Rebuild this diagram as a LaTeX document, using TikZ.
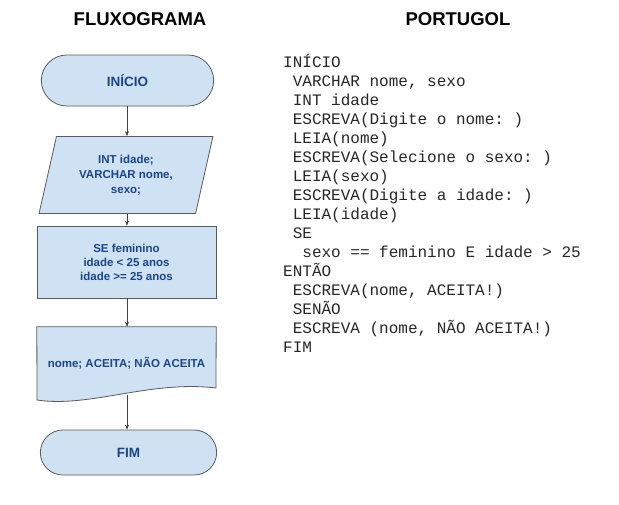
\documentclass[tikz,border=0pt]{standalone}
\usepackage{fontspec}
\setmainfont{Liberation Sans}
\setmonofont{Liberation Mono}
\usetikzlibrary{shapes.geometric,shapes.misc,arrows.meta}
\definecolor{lblue}{HTML}{CFE2F3}
\definecolor{dblue}{HTML}{1C4587}
\definecolor{edge}{HTML}{5A5A5A}
\tikzstyle{title}=[font=\bfseries\fontsize{18.5}{20}\selectfont,inner sep=0pt]
\tikzstyle{box}=[draw=edge,fill=lblue,text=dblue,line width=0.8,align=center,font=\bfseries\fontsize{11.5}{14}\selectfont]
\tikzstyle{terminal}=[box,rounded rectangle,font=\bfseries\fontsize{13.5}{16}\selectfont]
\tikzstyle{io}=[box,trapezium,trapezium left angle=75,trapezium right angle=105,trapezium stretches=true,minimum width=174,minimum height=77,font=\bfseries\fontsize{11.5}{15}\selectfont]
\tikzstyle{process}=[box,rectangle,minimum width=179,minimum height=72]
\tikzstyle{docshape}=[draw=edge,fill=lblue,line width=0.8]
\tikzstyle{doctext}=[text=dblue,font=\bfseries\fontsize{11.5}{14}\selectfont,minimum width=179,minimum height=72]
\tikzstyle{flow}=[-{Stealth[length=5pt,width=4pt]},draw=black!75,line width=0.6]
\tikzstyle{code}=[anchor=base west,inner sep=0pt,font=\ttfamily\fontsize{16}{19}\selectfont,text=black!85]

\begin{document}
\begin{tikzpicture}[x=1pt,y=-1pt]
	\useasboundingbox (0,0) rectangle (619,504);
	% titles
	\node [style=title] (tflux) at (140,19) {FLUXOGRAMA};
	\node [style=title] (tport) at (458,19) {PORTUGOL};

	% flowchart
	\node [style=terminal,minimum width=179,minimum height=51] (ini) at (127.5,80.5) {INÍCIO};
	\node [style=io] (decl) at (126,175) {INT idade;\\VARCHAR nome,\\sexo;};
	\node [style=process] (cond) at (126.5,262) {SE feminino\\idade < 25 anos\\idade >= 25 anos};
	\node [style=doctext] (out) at (126.5,363) {};
	\draw [style=docshape] (out.north west) -- (out.north east) -- (216,388)
		.. controls (150,380) and (90,408) .. (37,400) -- cycle;
	\node [style=doctext] at (out.center) {nome; ACEITA; NÃO ACEITA};
	\node [style=terminal,minimum width=183,minimum height=45] (fim) at (128.5,452.5) {FIM};

	\draw [style=flow] (ini.south -| 127,0) to (decl.north -| 127,0);
	\draw [style=flow] (decl.south -| 127,0) to (cond.north -| 127,0);
	\draw [style=flow] (cond.south -| 127,0) to (out.north -| 127,0);
	\draw [style=flow] ([yshift=4pt]out.south -| 127,0) to (fim.north -| 127,0);

	% pseudocode
	\node [style=code] (l0) at (283,67) {INÍCIO};
	\node [style=code] (l1) at (283,86) {\hphantom{x}VARCHAR nome, sexo};
	\node [style=code] (l2) at (283,105) {\hphantom{x}INT idade};
	\node [style=code] (l3) at (283,124) {\hphantom{x}ESCREVA(Digite o nome: )};
	\node [style=code] (l4) at (283,143) {\hphantom{x}LEIA(nome)};
	\node [style=code] (l5) at (283,162) {\hphantom{x}ESCREVA(Selecione o sexo: )};
	\node [style=code] (l6) at (283,181) {\hphantom{x}LEIA(sexo)};
	\node [style=code] (l7) at (283,200) {\hphantom{x}ESCREVA(Digite a idade: )};
	\node [style=code] (l8) at (283,219) {\hphantom{x}LEIA(idade)};
	\node [style=code] (l9) at (283,238) {\hphantom{x}SE};
	\node [style=code] (l10) at (283,257) {\hphantom{xx}sexo == feminino E idade > 25};
	\node [style=code] (l11) at (283,276) {ENTÃO};
	\node [style=code] (l12) at (283,295) {\hphantom{x}ESCREVA(nome, ACEITA!)};
	\node [style=code] (l13) at (283,314) {\hphantom{x}SENÃO};
	\node [style=code] (l14) at (283,333) {\hphantom{x}ESCREVA (nome, NÃO ACEITA!)};
	\node [style=code] (l15) at (283,352) {FIM};
\end{tikzpicture}
\end{document}
